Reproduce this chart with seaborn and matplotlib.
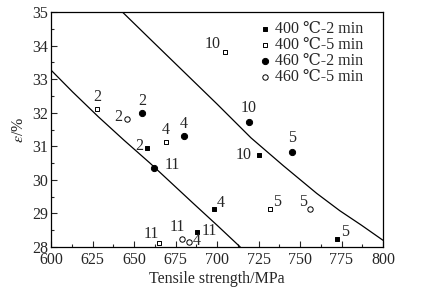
import matplotlib
matplotlib.use("Agg")
import matplotlib.pyplot as plt
import seaborn as sns
import pandas as pd
from matplotlib.ticker import MultipleLocator

# data
s400_2_x = [658, 725, 698, 688, 772]
s400_2_y = [30.94, 30.74, 29.14, 28.44, 28.24]
s400_2_lab = ["2", "10", "4", "11", "5"]

s400_5_x = [628, 669, 705, 732, 665]
s400_5_y = [32.11, 31.13, 33.80, 29.13, 28.11]
s400_5_lab = ["2", "4", "10", "5", "11"]

s460_2_x = [655, 680, 719, 745, 662]
s460_2_y = [32.00, 31.31, 31.72, 30.84, 30.34]
s460_2_lab = ["2", "4", "10", "5", "11"]

s460_5_x = [646, 756, 679, 683]
s460_5_y = [31.82, 29.14, 28.24, 28.15]
s460_5_lab = ["2", "5", "11", "4"]

left_x = [600, 613, 628.5, 644, 659.6, 672, 685.7, 700, 714]
left_y = [33.27, 32.62, 31.88, 31.18, 30.50, 29.93, 29.30, 28.65, 28.0]
right_x = [643, 660, 680, 700, 720.5, 740, 760, 774, 787, 800]
right_y = [35.0, 34.18, 33.22, 32.26, 31.25, 30.42, 29.60, 29.08, 28.65, 28.2]

# label offsets in pixels (dx, dy)
off_400_2 = [(-8, 2), (-15, 0), (7, 6), (12, 1), (9, 7)]
off_400_5 = [(0, 12), (0, 12), (-13, 8), (7, 7), (-8, 9)]
off_460_2 = [(0, 12), (0, 12), (0, 14), (0, 14), (18, 3)]
off_460_5 = [(-9, 2), (-7, 7), (-5, 12), (8, 1)]

FS = 11.5

sns.set_style("ticks")
plt.rcParams["font.family"] = ["Liberation Serif", "DejaVu Serif"]
plt.rcParams["mathtext.fontset"] = "stix"
plt.rcParams["font.size"] = FS

fig = plt.figure(figsize=(4.23, 2.95), dpi=100)
ax = fig.add_axes([51 / 423, 48 / 295, 332 / 423, 235 / 295])

sns.lineplot(x=left_x, y=left_y, ax=ax, color="black", lw=0.9, sort=False)
sns.lineplot(x=right_x, y=right_y, ax=ax, color="black", lw=0.9, sort=False)

series = [
    (s400_2_x, s400_2_y, s400_2_lab, off_400_2, "s", "black", 10, "400 ℃-2 min"),
    (s400_5_x, s400_5_y, s400_5_lab, off_400_5, "s", "white", 11, "400 ℃-5 min"),
    (s460_2_x, s460_2_y, s460_2_lab, off_460_2, "o", "black", 20, "460 ℃-2 min"),
    (s460_5_x, s460_5_y, s460_5_lab, off_460_5, "o", "white", 15, "460 ℃-5 min"),
]
for xs, ys, labs, offs, mk, fc, size, name in series:
    df = pd.DataFrame({"x": xs, "y": ys})
    sns.scatterplot(data=df, x="x", y="y", ax=ax, marker=mk, color=fc,
                    edgecolor="black", linewidth=0.7, s=size, label=name, zorder=3)
    for x, y, t, (dx, dy) in zip(xs, ys, labs, offs):
        ax.annotate(t, (x, y), xytext=(dx, dy), textcoords="offset pixels",
                    ha="center", va="center", fontsize=FS)

ax.set_xlim(600, 800)
ax.set_ylim(28, 35)
ax.xaxis.set_major_locator(MultipleLocator(25))
ax.xaxis.set_minor_locator(MultipleLocator(12.5))
ax.yaxis.set_major_locator(MultipleLocator(1))
ax.yaxis.set_minor_locator(MultipleLocator(0.5))
ax.tick_params(which="both", direction="in", labelsize=FS, width=0.8, pad=2)
ax.tick_params(axis="x", which="both", pad=3.5)
ax.tick_params(which="major", length=4)
ax.tick_params(which="minor", length=2)
for sp in ax.spines.values():
    sp.set_linewidth(0.9)
    sp.set_color("black")

ax.set_xlabel("Tensile strength/MPa", fontsize=FS, labelpad=2.5)
ax.set_ylabel(r"$\varepsilon$/%", fontsize=FS, labelpad=4)

ax.legend(loc="upper right", bbox_to_anchor=(0.94, 0.96), frameon=False,
          handlelength=0.5, handletextpad=0.35, labelspacing=0.0,
          borderpad=0.0, borderaxespad=0.0, fontsize=FS)

fig.savefig("out.png", dpi=100)
